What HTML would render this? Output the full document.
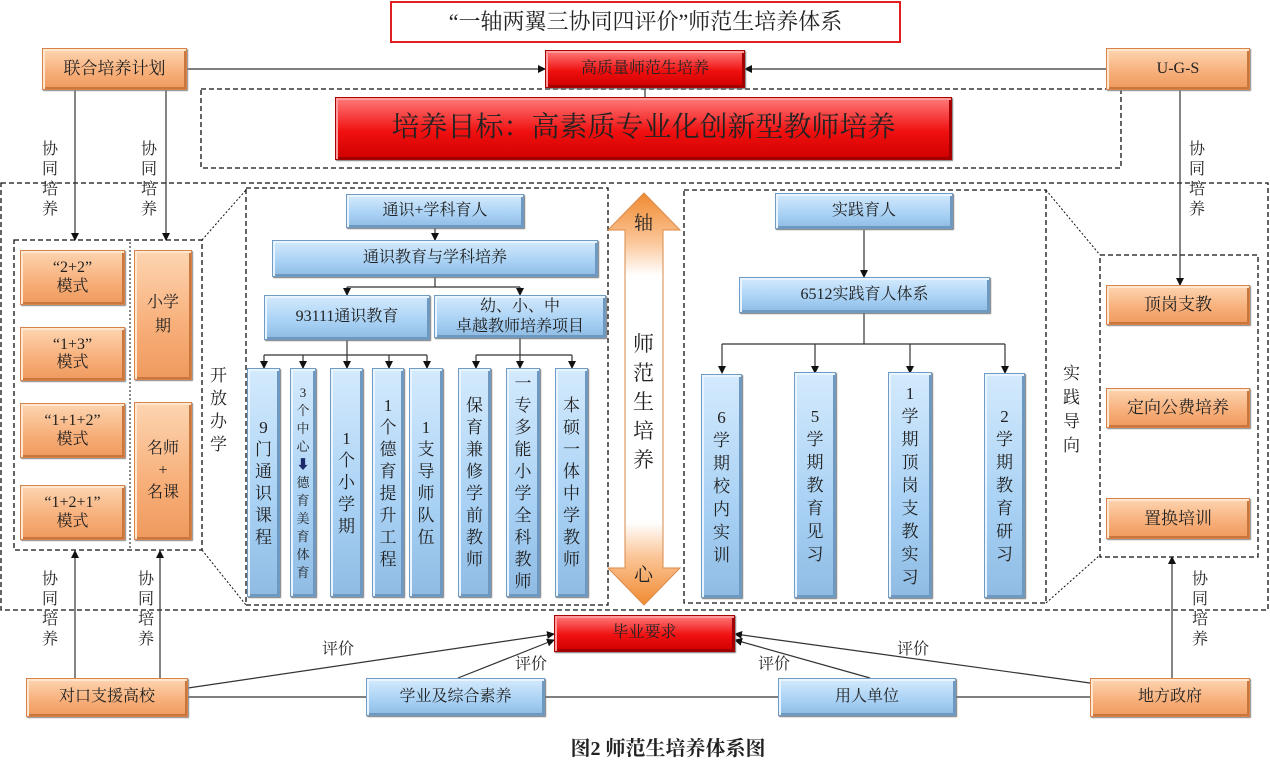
<!DOCTYPE html>
<html><head><meta charset="utf-8">
<style>
body{margin:0;width:1270px;height:771px;background:#fff;position:relative;overflow:hidden;font-family:"Liberation Serif","Noto Serif CJK SC",serif;color:#222}
svg{position:absolute;left:0;top:0}
.b{position:absolute;display:flex;align-items:center;justify-content:center;text-align:center;box-sizing:border-box;font-size:16px;line-height:1.15}
.bl{background:linear-gradient(#d4eafd,#a8d1f4 60%,#8fbbe3);border:1px solid #6f9bc4;box-shadow:inset 2px 2px 0 #e8f4ff,inset -2px -2px 0 #6d98c0,1px 1px 1px #777}
.or{background:linear-gradient(#fdd5b1,#f7ae78 60%,#ef9a5e);border:1px solid #d9834a;box-shadow:inset 2px 2px 0 #ffe6cf,inset -2px -2px 0 #c9773d,1px 1px 1px #888}
.rd{background:linear-gradient(#ff7a7a,#f01010 55%,#d00000);border:1px solid #a00;box-shadow:inset 2px 2px 0 #ff9b9b,inset -2px -2px 0 #a00000,1px 1px 1px #777}
.t{position:absolute;font-size:16px;line-height:20px;width:1em;word-break:break-all;text-align:center}
</style></head><body>
<svg width="1270" height="771" viewBox="0 0 1270 771">
<defs>
<marker id="a" markerWidth="8" markerHeight="8" refX="7" refY="4" orient="auto" markerUnits="userSpaceOnUse"><path d="M0,0 L8,4 L0,8 z" fill="#111"/></marker>
<linearGradient id="ax" x1="0" y1="0" x2="0" y2="1">
<stop offset="0" stop-color="#f08a30"/><stop offset="0.12" stop-color="#fbc79a"/><stop offset="0.2" stop-color="#fff"/><stop offset="0.8" stop-color="#fff"/><stop offset="0.88" stop-color="#fbc79a"/><stop offset="1" stop-color="#f08a30"/></linearGradient>
</defs>
<rect x="391" y="2" width="509" height="40" fill="#fff" stroke="#e02020" stroke-width="2"/>
<g fill="none" stroke="#111" stroke-width="1.3" stroke-dasharray="5,3">
<rect x="201" y="89" width="920" height="79"/>
<rect x="1" y="183" width="1267" height="427"/>
<rect x="14" y="240" width="188" height="310"/>
<rect x="246" y="188" width="362" height="417"/>
<rect x="684" y="190" width="362" height="413"/>
<rect x="1100" y="255" width="158" height="302"/>
</g>
<g stroke="#111" stroke-width="1" stroke-dasharray="2,2" fill="none">
<line x1="130" y1="242" x2="130" y2="548"/>
<line x1="202" y1="240" x2="246" y2="190"/>
<line x1="202" y1="550" x2="246" y2="605"/>
<line x1="1046" y1="190" x2="1100" y2="255"/>
<line x1="1046" y1="603" x2="1100" y2="555"/>
</g>
<g stroke="#333" stroke-width="1.2" fill="none">
<line x1="187" y1="69" x2="545" y2="69" marker-end="url(#a)"/>
<line x1="1106" y1="69" x2="745" y2="69" marker-end="url(#a)"/>
<line x1="645" y1="88" x2="645" y2="105" marker-end="url(#a)"/>
<line x1="75" y1="90" x2="75" y2="240" marker-end="url(#a)"/>
<line x1="166" y1="90" x2="166" y2="240" marker-end="url(#a)"/>
<line x1="1180" y1="90" x2="1180" y2="285" marker-end="url(#a)"/>
<line x1="75" y1="678" x2="75" y2="551" marker-end="url(#a)"/>
<line x1="160" y1="678" x2="160" y2="551" marker-end="url(#a)"/>
<line x1="1172" y1="678" x2="1172" y2="557" marker-end="url(#a)"/>
<line x1="435" y1="228" x2="435" y2="240" marker-end="url(#a)"/>
<polyline points="435,277 435,287"/>
<line x1="347" y1="287" x2="520" y2="287"/>
<line x1="347" y1="287" x2="347" y2="295" marker-end="url(#a)"/>
<line x1="520" y1="287" x2="520" y2="295" marker-end="url(#a)"/>
<line x1="347" y1="340" x2="347" y2="355"/>
<line x1="264" y1="355" x2="427" y2="355"/>
<line x1="264" y1="355" x2="264" y2="368" marker-end="url(#a)"/>
<line x1="303" y1="355" x2="303" y2="368" marker-end="url(#a)"/>
<line x1="347" y1="355" x2="347" y2="368" marker-end="url(#a)"/>
<line x1="389" y1="355" x2="389" y2="368" marker-end="url(#a)"/>
<line x1="427" y1="355" x2="427" y2="368" marker-end="url(#a)"/>
<line x1="520" y1="338" x2="520" y2="355"/>
<line x1="476" y1="355" x2="572" y2="355"/>
<line x1="476" y1="355" x2="476" y2="368" marker-end="url(#a)"/>
<line x1="520" y1="355" x2="520" y2="368" marker-end="url(#a)"/>
<line x1="572" y1="355" x2="572" y2="368" marker-end="url(#a)"/>
<line x1="864" y1="230" x2="864" y2="277" marker-end="url(#a)"/>
<line x1="864" y1="313" x2="864" y2="344"/>
<line x1="722" y1="344" x2="1005" y2="344"/>
<line x1="722" y1="344" x2="722" y2="373" marker-end="url(#a)"/>
<line x1="815" y1="344" x2="815" y2="373" marker-end="url(#a)"/>
<line x1="910" y1="344" x2="910" y2="373" marker-end="url(#a)"/>
<line x1="1005" y1="344" x2="1005" y2="373" marker-end="url(#a)"/>
<line x1="188" y1="697" x2="1090" y2="697"/>
<line x1="188" y1="688" x2="554" y2="634" marker-end="url(#a)"/>
<line x1="458" y1="678" x2="554" y2="640" marker-end="url(#a)"/>
<line x1="870" y1="678" x2="735" y2="640" marker-end="url(#a)"/>
<line x1="1090" y1="683" x2="735" y2="634" marker-end="url(#a)"/>
</g>
<path d="M644,193 L680,230 L663,230 L663,568 L680,568 L644,605 L608,568 L625,568 L625,230 L608,230 Z" fill="url(#ax)" stroke="#d98a4a" stroke-width="1"/>
</svg>

<div class="b" style="left:391px;top:2px;width:509px;height:40px;font-size:22px">“一轴两翼三协同四评价”师范生培养体系</div>
<div class="b or" style="left:42px;top:48px;width:145px;height:42px;font-size:17px">联合培养计划</div>
<div class="b rd" style="left:545px;top:50px;width:200px;height:38px">高质量师范生培养</div>
<div class="b or" style="left:1106px;top:48px;width:144px;height:42px">U-G-S</div>
<div class="b rd" style="left:335px;top:97px;width:617px;height:63px;font-size:28px">培养目标：高素质专业化创新型教师培养</div>

<div class="t" style="left:42px;top:140px">协同培养</div>
<div class="t" style="left:141px;top:140px">协同培养</div>
<div class="t" style="left:1189px;top:140px">协同培养</div>
<div class="t" style="left:42px;top:570px">协同培养</div>
<div class="t" style="left:138px;top:570px">协同培养</div>
<div class="t" style="left:1192px;top:570px">协同培养</div>

<div class="b or" style="left:20px;top:250px;width:105px;height:55px">“2+2”<br>模式</div>
<div class="b or" style="left:20px;top:327px;width:105px;height:54px">“1+3”<br>模式</div>
<div class="b or" style="left:20px;top:403px;width:105px;height:55px">“1+1+2”<br>模式</div>
<div class="b or" style="left:20px;top:485px;width:105px;height:55px">“1+2+1”<br>模式</div>
<div class="b or" style="left:134px;top:250px;width:58px;height:130px;line-height:24px">小学<br>期</div>
<div class="b or" style="left:134px;top:402px;width:58px;height:138px;line-height:22px">名师<br>+<br>名课</div>
<div class="t" style="left:210px;top:364px;font-size:17px;line-height:23px">开放办学</div>

<div class="b bl" style="left:346px;top:194px;width:178px;height:34px">通识+学科育人</div>
<div class="b bl" style="left:272px;top:240px;width:326px;height:37px">通识教育与学科培养</div>
<div class="b bl" style="left:264px;top:295px;width:166px;height:45px">93111通识教育</div>
<div class="b bl" style="left:434px;top:295px;width:172px;height:43px;line-height:20px">幼、小、中<br>卓越教师培养项目</div>

<div class="b bl" style="left:247px;top:368px;width:33px;height:229px;font-size:17px;line-height:22px"><span style="width:1em;word-break:break-all">9门通识课程</span></div>
<div class="b bl" style="left:290px;top:368px;width:26px;height:229px;font-size:13px;line-height:18px"><span style="width:1em;word-break:break-all">3个中心<b style="color:#1b2a6b">⬇</b>德育美育体育</span></div>
<div class="b bl" style="left:330px;top:368px;width:33px;height:229px;font-size:17px;line-height:22px"><span style="width:1em;word-break:break-all">1个小学期</span></div>
<div class="b bl" style="left:372px;top:368px;width:32px;height:229px;font-size:17px;line-height:22px"><span style="width:1em;word-break:break-all">1个德育提升工程</span></div>
<div class="b bl" style="left:409px;top:368px;width:34px;height:229px;font-size:17px;line-height:22px"><span style="width:1em;word-break:break-all">1支导师队伍</span></div>
<div class="b bl" style="left:458px;top:368px;width:33px;height:229px;font-size:17px;line-height:22px"><span style="width:1em;word-break:break-all">保育兼修学前教师</span></div>
<div class="b bl" style="left:506px;top:368px;width:34px;height:229px;font-size:17px;line-height:22px"><span style="width:1em;word-break:break-all">一专多能小学全科教师</span></div>
<div class="b bl" style="left:555px;top:368px;width:33px;height:229px;font-size:17px;line-height:22px"><span style="width:1em;word-break:break-all">本硕一体中学教师</span></div>

<div class="t" style="left:634px;top:214px;font-size:19px">轴</div>
<div class="t" style="left:633px;top:330px;font-size:21px;line-height:29px">师范生培养</div>
<div class="t" style="left:634px;top:566px;font-size:19px">心</div>

<div class="b bl" style="left:775px;top:193px;width:178px;height:36px">实践育人</div>
<div class="b bl" style="left:739px;top:277px;width:251px;height:36px">6512实践育人体系</div>
<div class="b bl" style="left:701px;top:374px;width:41px;height:224px;font-size:17px;line-height:23px"><span style="width:1em;word-break:break-all">6学期校内实训</span></div>
<div class="b bl" style="left:794px;top:372px;width:42px;height:226px;font-size:17px;line-height:23px"><span style="width:1em;word-break:break-all">5学期教育见习</span></div>
<div class="b bl" style="left:888px;top:372px;width:44px;height:226px;font-size:17px;line-height:23px"><span style="width:1em;word-break:break-all">1学期顶岗支教实习</span></div>
<div class="b bl" style="left:984px;top:373px;width:41px;height:225px;font-size:17px;line-height:23px"><span style="width:1em;word-break:break-all">2学期教育研习</span></div>
<div class="t" style="left:1063px;top:362px;font-size:17px;line-height:24px">实践导向</div>

<div class="b or" style="left:1106px;top:285px;width:144px;height:40px;font-size:17px">顶岗支教</div>
<div class="b or" style="left:1106px;top:388px;width:144px;height:40px;font-size:17px">定向公费培养</div>
<div class="b or" style="left:1106px;top:498px;width:144px;height:41px;font-size:17px">置换培训</div>

<div class="b rd" style="left:554px;top:615px;width:181px;height:37px">毕业要求</div>
<div class="b or" style="left:26px;top:678px;width:162px;height:39px">对口支援高校</div>
<div class="b bl" style="left:366px;top:678px;width:179px;height:38px">学业及综合素养</div>
<div class="b bl" style="left:778px;top:678px;width:178px;height:38px">用人单位</div>
<div class="b or" style="left:1090px;top:678px;width:160px;height:39px">地方政府</div>
<div style="position:absolute;left:322px;top:636px;font-size:16px">评价</div>
<div style="position:absolute;left:515px;top:651px;font-size:16px">评价</div>
<div style="position:absolute;left:758px;top:651px;font-size:16px">评价</div>
<div style="position:absolute;left:897px;top:636px;font-size:16px">评价</div>
<div style="position:absolute;left:0;width:1336px;top:732px;text-align:center;font-size:20px;font-weight:bold">图2 师范生培养体系图</div>
</body></html>
